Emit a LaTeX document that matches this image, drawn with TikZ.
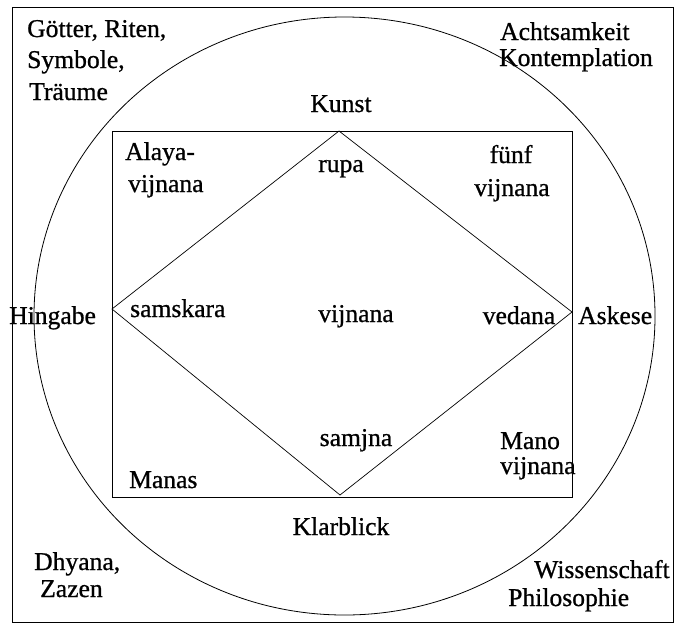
\documentclass[tikz,border=0pt]{standalone}
\usepackage{fontspec}
\setmainfont[FakeBold=0.8]{Liberation Serif}
\usepackage{tikz}
\usetikzlibrary{positioning, calc}

\begin{document}
\begin{tikzpicture}[x=1pt, y=-1pt,
    lbl/.style={font=\fontsize{25.6}{30}\selectfont, inner sep=0pt},
    lw/.style={lbl, anchor=base west},
    lc/.style={lbl, anchor=base}]
  \useasboundingbox (0,0) rectangle (676,624);
  % frame, circle, square, diamond
  \draw[line width=0.9pt] (12,7.5) rectangle (673,622);
  \draw[line width=0.8pt] (344.5,316) ellipse [x radius=310.5, y radius=299];
  \draw[line width=1pt] (112,131) rectangle (572,497);
  \coordinate (top) at (339,131);
  \coordinate (rgt) at (572,312);
  \coordinate (bot) at (340,495);
  \coordinate (lft) at (112,309);
  \draw[line width=0.7pt] (top) -- (rgt) -- (bot) -- (lft) -- cycle;
  % outer corners
  \node[lw] (gods1) at (27,37) {Götter, Riten,};
  \node[lw] (gods2) at (27,68) {Symbole,};
  \node[lw] (gods3) at (29,100) {Träume};
  \node[lw] (mind1) at (500,40) {Achtsamkeit};
  \node[lw] (mind2) at (499,66) {Kontemplation};
  \node[lw] (dhy1) at (34,570) {Dhyana,};
  \node[lw] (dhy2) at (40,597) {Zazen};
  \node[lw] (sci1) at (534,578) {Wissenschaft};
  \node[lw] (sci2) at (508,606) {Philosophie};
  % ways on the circle
  \node[lc] (kunst) at (341,112) {Kunst};
  \node[lc] (klar) at (341,535) {Klarblick};
  \node[lw] (hing) at (9,324) {Hingabe};
  \node[lw] (ask) at (578,324) {Askese};
  % square corners
  \node[lw] (alaya1) at (125,160) {Alaya-};
  \node[lw] (alaya2) at (128,192) {vijnana};
  \node[lc] (fuenf1) at (511,163) {fünf};
  \node[lc] (fuenf2) at (512,196) {vijnana};
  \node[lw] (mano1) at (500,449) {Mano};
  \node[lw] (mano2) at (500,474) {vijnana};
  \node[lw] (manas) at (129,488) {Manas};
  % skandhas
  \node[lc] (rupa) at (341,172) {rupa};
  \node[lw] (samsk) at (130,317) {samskara};
  \node[lc] (vij) at (356,322) {vijnana};
  \node[lc] (ved) at (519,324) {vedana};
  \node[lc] (samj) at (356,446) {samjna};
\end{tikzpicture}
\end{document}
